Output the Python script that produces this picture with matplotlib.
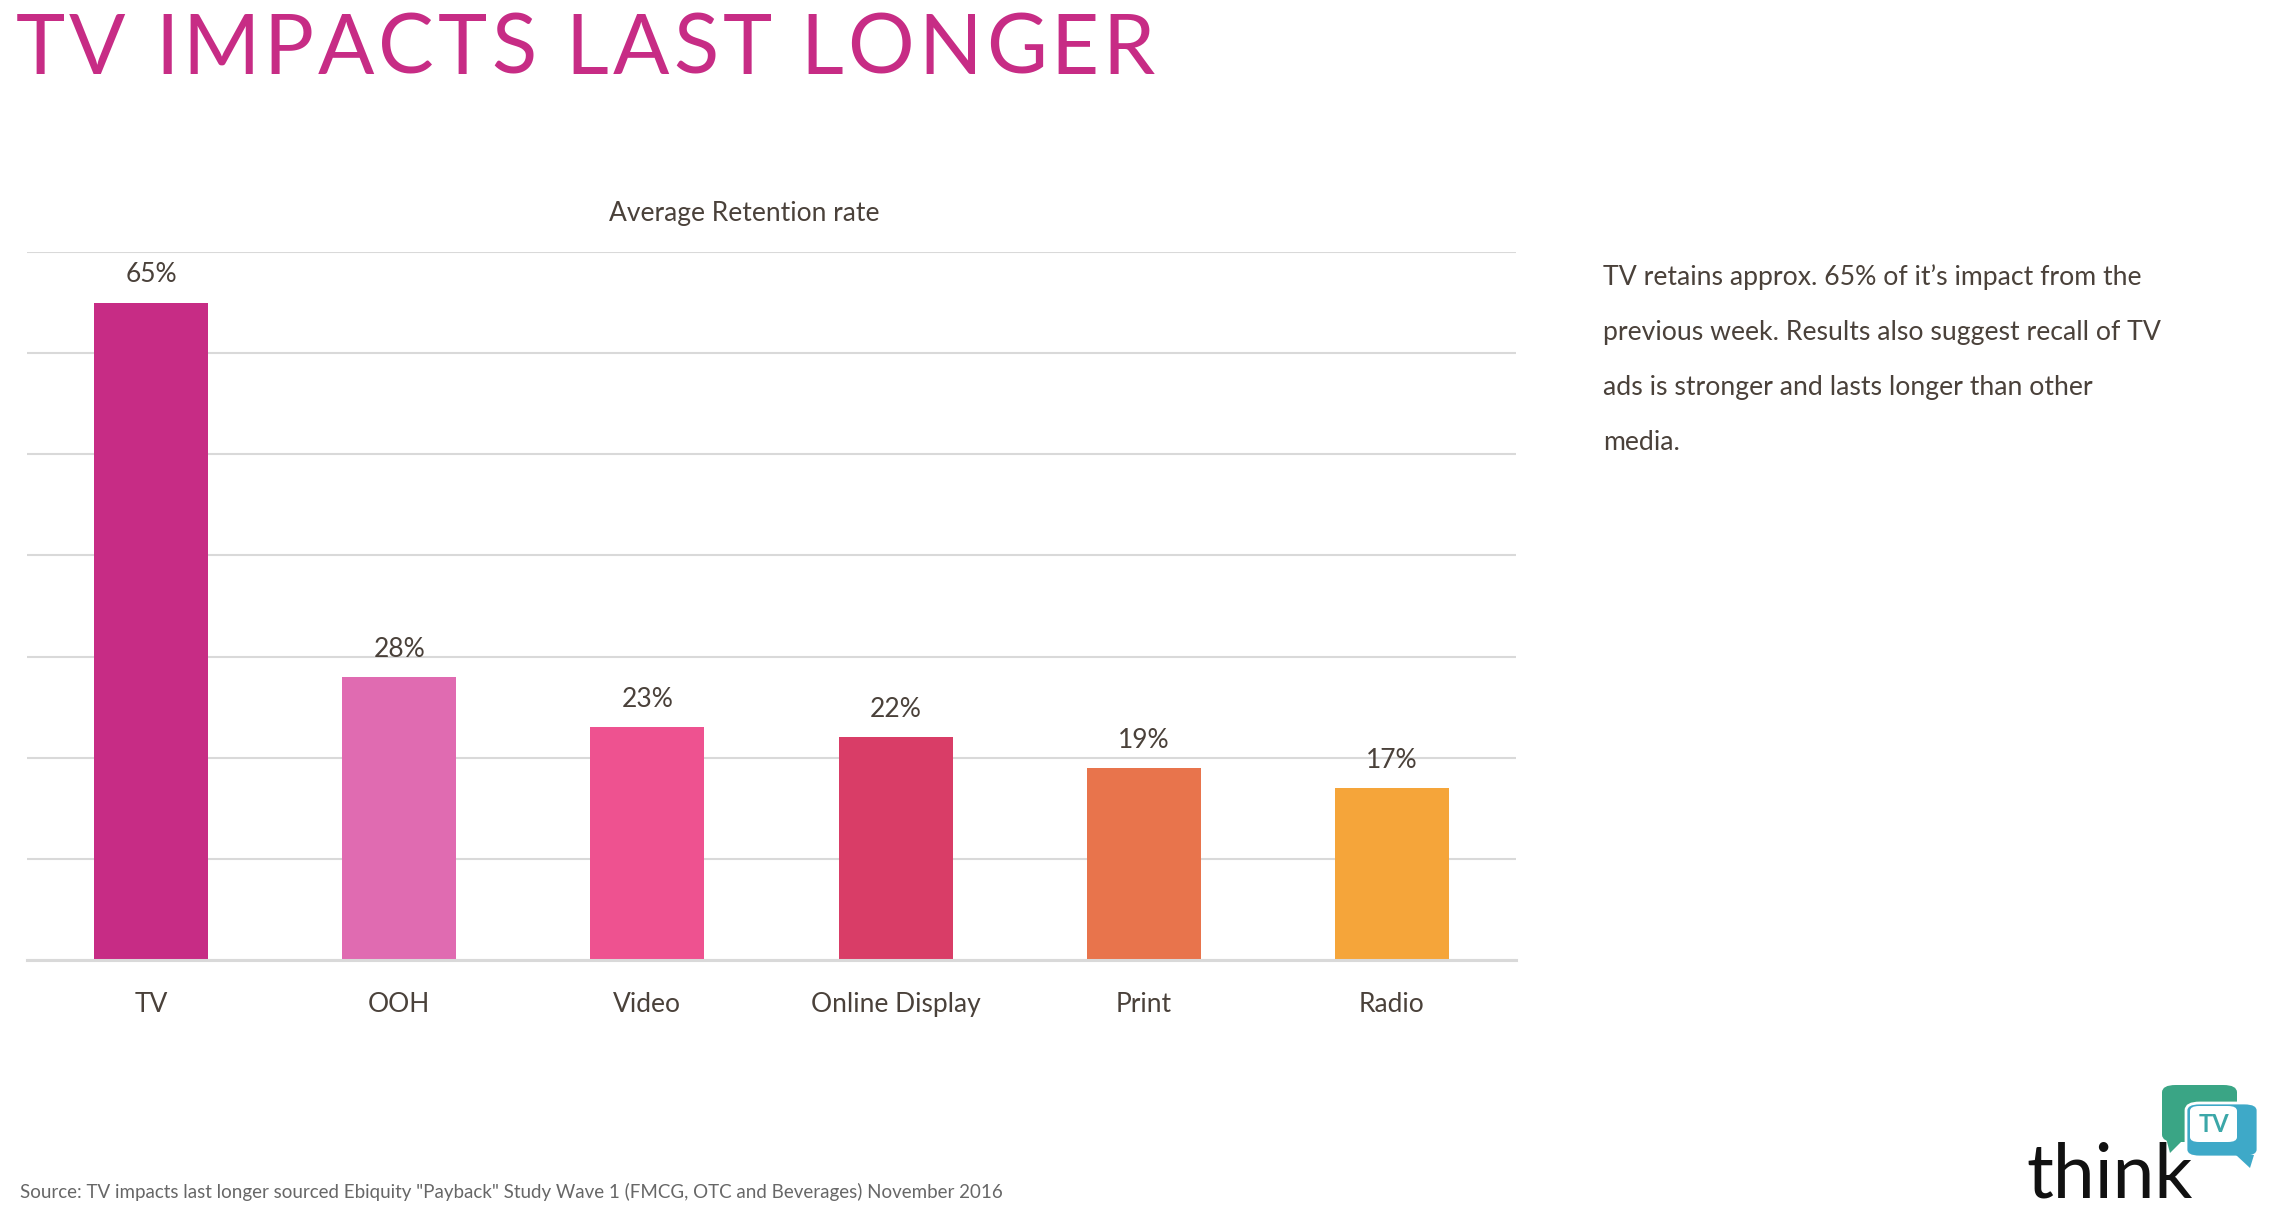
import matplotlib.pyplot as plt
from matplotlib.patches import FancyBboxPatch, Polygon

# data
categories = ['TV', 'OOH', 'Video', 'Online Display', 'Print', 'Radio']
retention = [65, 28, 23, 22, 19, 17]
bar_colors = ['#C72C85', '#E06BB1', '#EE5290', '#D93D67', '#E8744C', '#F5A53A']
title = 'TV IMPACTS LAST LONGER'
chart_title = 'Average Retention rate'
note_lines = ['TV retains approx. 65% of it\u2019s impact from the',
              'previous week. Results also suggest recall of TV',
              'ads is stronger and lasts longer than other',
              'media.']
source = 'Source: TV impacts last longer sourced Ebiquity "Payback" Study Wave 1 (FMCG, OTC and Beverages) November 2016'

plt.rcParams['font.family'] = ['Lato', 'DejaVu Sans']
text_col = '#4A413A'
grid_col = '#D9D9D9'

W, H = 2278, 1220
fig = plt.figure(figsize=(W / 100, H / 100), dpi=100)
renderer = fig.canvas.get_renderer()


def fx(px):
    return px / W


def fy(py):
    return 1 - py / H


# 标题 (字距加宽)
title_kw = dict(color='#C72C85', fontsize=60, fontweight='normal', va='center', ha='left')


def text_w(s):
    if not s:
        return 0.0
    t = fig.text(0, 0, s + '|', **title_kw)
    w = t.get_window_extent(renderer).width
    t.remove()
    t = fig.text(0, 0, '|', **title_kw)
    w -= t.get_window_extent(renderer).width
    t.remove()
    return w


x0, x1 = 16, 1155
natural = text_w(title)
track = (x1 - x0 - natural) / (len(title) - 1)
for i, ch in enumerate(title):
    if ch != ' ':
        fig.text(fx(x0 + text_w(title[:i]) + i * track), fy(51), ch, **title_kw)

# 柱状图
ax = fig.add_axes([fx(27), fy(960), fx(1516) - fx(27), fy(252) - fy(960)])
x = list(range(len(categories)))
bars = ax.bar(x, retention, width=0.46, color=bar_colors, zorder=2)
ax.set_xlim(-0.5, len(categories) - 0.5)
ax.set_ylim(0, 70)
ax.set_yticks(range(0, 71, 10))
ax.yaxis.grid(True, color=grid_col, linewidth=1.5, zorder=0)
ax.tick_params(axis='y', left=False, labelleft=False)
ax.tick_params(axis='x', length=0, pad=23, labelsize=19, labelcolor=text_col)
ax.set_xticks(x)
ax.set_xticklabels(categories)
for s in ['top', 'right', 'left']:
    ax.spines[s].set_visible(False)
ax.spines['bottom'].set_color(grid_col)
ax.spines['bottom'].set_linewidth(2.2)
ax.spines['bottom'].set_zorder(3)

for b, v in zip(bars, retention):
    ax.annotate(f'{v}%', (b.get_x() + b.get_width() / 2, v), xytext=(0, 20),
                textcoords='offset points', ha='center', va='center',
                fontsize=19, color=text_col)

fig.text(fx(744), fy(214), chart_title, ha='center', va='center', fontsize=19, color=text_col)

# 右侧说明
for i, line in enumerate(note_lines):
    fig.text(fx(1603), fy(277 + 55.3 * i), line, ha='left', va='center', fontsize=19.2, color=text_col)

# 来源
fig.text(fx(20), fy(1192), source, ha='left', va='center', fontsize=13.5, color='#676767')

# logo
fig.patches.append(FancyBboxPatch((fx(2162), fy(1142)), fx(2237) - fx(2162), fy(1085) - fy(1142),
                                  boxstyle='round,pad=0,rounding_size=0.006', transform=fig.transFigure,
                                  facecolor='#3AA585', edgecolor='none'))
fig.patches.append(Polygon([(fx(2166), fy(1138)), (fx(2185), fy(1138)), (fx(2170), fy(1153))],
                           transform=fig.transFigure, facecolor='#3AA585', edgecolor='none'))
fig.patches.append(FancyBboxPatch((fx(2186), fy(1157)), fx(2258) - fx(2186), fy(1103) - fy(1157),
                                  boxstyle='round,pad=0,rounding_size=0.006', transform=fig.transFigure,
                                  facecolor='#3EA9C8', edgecolor='white', linewidth=2))
fig.patches.append(Polygon([(fx(2236), fy(1155)), (fx(2254), fy(1155)), (fx(2250), fy(1168))],
                           transform=fig.transFigure, facecolor='#3EA9C8', edgecolor='none'))
fig.patches.append(FancyBboxPatch((fx(2190), fy(1142)), fx(2237) - fx(2190), fy(1106) - fy(1142),
                                  boxstyle='round,pad=0,rounding_size=0.004', transform=fig.transFigure,
                                  facecolor='white', edgecolor='none'))
fig.text(fx(2214), fy(1124), 'TV', ha='center', va='center', fontsize=17, fontweight='bold', color='#3BA7A8')
fig.text(fx(2026), fy(1198), 'think', ha='left', va='baseline', fontsize=54, color='#111111')

fig.savefig('out.png', dpi=100, facecolor='white')
